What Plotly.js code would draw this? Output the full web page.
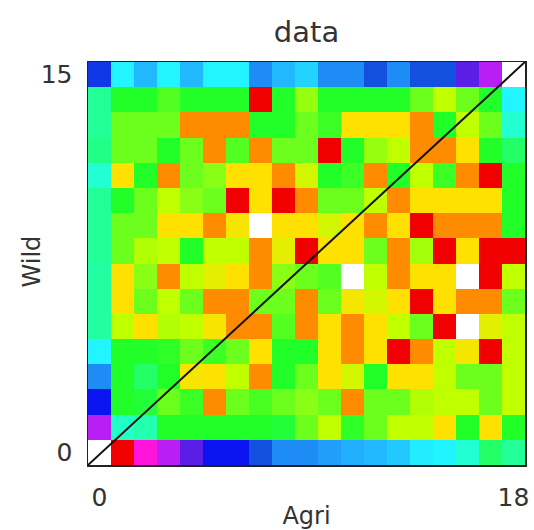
<!DOCTYPE html>
<html>
<head>
<meta charset="utf-8">
<script src="https://cdn.plot.ly/plotly-3.0.1.min.js"></script>
<style>html,body{margin:0;padding:0;background:#fff;}#chart{width:534px;height:530px;}</style>
</head>
<body>
<div id="chart"></div>
<script>
// column (Agri) and row (Wild) indices
const agri = [0,1,2,3,4,5,6,7,8,9,10,11,12,13,14,15,16,17,18];
const wild = [0,1,2,3,4,5,6,7,8,9,10,11,12,13,14,15];
const xTicks = [0, 18];
const yTicks = [0, 15];

const row0  = [1.00,0.77,0.83,0.89,0.94,0.05,0.05,0.10,0.15,0.15,0.17,0.19,0.20,0.22,0.26,0.27,0.32,0.40,0.37];
const row1  = [0.89,0.33,0.35,0.44,0.44,0.44,0.44,0.44,0.43,0.50,0.56,0.45,0.50,0.56,0.56,0.63,0.44,0.63,0.44];
const row2  = [0.05,0.44,0.43,0.50,0.46,0.70,0.50,0.47,0.50,0.52,0.50,0.70,0.50,0.50,0.55,0.56,0.56,0.50,0.56];
const row3  = [0.15,0.44,0.40,0.44,0.62,0.63,0.56,0.70,0.44,0.50,0.63,0.58,0.44,0.63,0.63,0.56,0.50,0.50,0.56];
const row4  = [0.27,0.44,0.44,0.45,0.50,0.46,0.50,0.63,0.44,0.44,0.63,0.70,0.63,0.77,0.70,0.56,0.62,0.77,0.56];
const row5  = [0.36,0.56,0.63,0.55,0.56,0.62,0.70,0.70,0.48,0.70,0.63,0.70,0.63,0.56,0.50,0.77,1.00,0.60,0.56];
const row6  = [0.36,0.63,0.50,0.56,0.50,0.70,0.70,0.50,0.50,0.70,0.50,0.62,0.58,0.63,0.77,0.63,0.70,0.70,0.50];
const row7  = [0.36,0.63,0.52,0.70,0.56,0.60,0.63,0.70,0.52,0.50,0.48,1.00,0.56,0.70,0.63,0.63,1.00,0.77,0.56];
const row8  = [0.37,0.50,0.55,0.56,0.44,0.56,0.56,0.70,0.60,0.77,0.63,0.63,0.50,0.70,0.54,0.77,0.63,0.77,0.77];
const row9  = [0.37,0.50,0.50,0.63,0.63,0.70,0.62,1.00,0.63,0.63,0.58,0.63,0.70,0.63,0.77,0.70,0.70,0.70,0.44];
const row10 = [0.37,0.44,0.50,0.56,0.52,0.50,0.77,0.63,0.77,0.70,0.50,0.50,0.56,0.70,0.63,0.63,0.63,0.63,0.44];
const row11 = [0.32,0.63,0.44,0.70,0.50,0.52,0.63,0.63,0.70,0.58,0.44,0.46,0.70,0.44,0.56,0.46,0.70,0.77,0.44];
const row12 = [0.38,0.50,0.50,0.44,0.50,0.70,0.48,0.70,0.50,0.50,0.77,0.44,0.53,0.56,0.70,0.70,0.63,0.44,0.40];
const row13 = [0.37,0.50,0.50,0.50,0.70,0.70,0.70,0.44,0.44,0.50,0.46,0.63,0.63,0.63,0.70,0.44,0.56,0.50,0.32];
const row14 = [0.37,0.44,0.44,0.48,0.44,0.44,0.44,0.77,0.44,0.53,0.44,0.44,0.44,0.44,0.50,0.56,0.50,0.44,0.27];
const row15 = [0.08,0.27,0.20,0.27,0.20,0.27,0.27,0.15,0.20,0.23,0.15,0.15,0.10,0.15,0.10,0.10,0.94,0.89,1.00];

const zRows = [row0,row1,row2,row3,row4,row5,row6,row7,row8,row9,row10,row11,row12,row13,row14,row15];

const cscale = [
  [0.00,'#0008e0'],[0.05,'#0a14f0'],[0.10,'#1450e0'],[0.15,'#1e8cf5'],[0.20,'#22b8ff'],
  [0.27,'#22f5ff'],[0.32,'#22ffd2'],[0.37,'#22ff96'],[0.44,'#22ff28'],[0.50,'#6cff1e'],
  [0.56,'#c0ff00'],[0.63,'#ffe100'],[0.70,'#ff8c00'],[0.77,'#f00000'],[0.83,'#ff14dc'],
  [0.89,'#b91ef5'],[0.94,'#5a1ee6'],[1.00,'#ffffff']
];

const font = 'DejaVu Sans, sans-serif';
const xr = [agri[0]-0.5, agri[agri.length-1]+0.5];
const yr = [wild[0]-0.5, wild[wild.length-1]+0.5];

const trace = {
  type: 'heatmap', x: agri, y: wild, z: zRows,
  colorscale: cscale, zmin: 0, zmax: 1, showscale: false, zsmooth: false,
  hoverinfo: 'skip'
};

const layout = {
  width: 534, height: 530,
  margin: {l: 88, r: 9, t: 62, b: 65},
  paper_bgcolor: '#fff', plot_bgcolor: '#fff',
  title: {text: 'data', font: {family: font, size: 29, color: '#333'}, x: 0.574, xanchor: 'center', y: 0.94, yanchor: 'middle'},
  xaxis: {
    range: xr, tickvals: xTicks, ticktext: xTicks.map(String), ticks: '', showgrid: false, zeroline: false,
    showline: true, mirror: true, linecolor: '#222', linewidth: 1.5,
    tickfont: {family: font, size: 25, color: '#333'}, ticklabelstandoff: 9,
    title: {text: 'Agri', font: {family: font, size: 24, color: '#333'}, standoff: 0}
  },
  yaxis: {
    range: yr, tickvals: yTicks, ticktext: yTicks.map(String), ticks: '', showgrid: false, zeroline: false,
    showline: true, mirror: true, linecolor: '#222', linewidth: 1.5,
    tickfont: {family: font, size: 25, color: '#333'}, ticklabelstandoff: 9
  },
  annotations: [{
    text: 'Wild', xref: 'paper', yref: 'paper', x: -0.126, y: 0.505, xanchor: 'center', yanchor: 'middle',
    textangle: -90, showarrow: false, font: {family: font, size: 24, color: '#333'}
  }],
  shapes: [{type: 'line', xref: 'x', yref: 'y', x0: xr[0], y0: yr[0], x1: xr[1], y1: yr[1], line: {color: '#111', width: 2}}]
};

Plotly.newPlot('chart', [trace], layout, {staticPlot: true, displayModeBar: false});
</script>
</body>
</html>
